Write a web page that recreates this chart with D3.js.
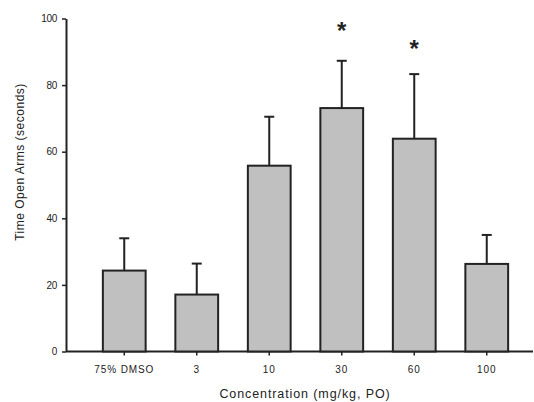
<!DOCTYPE html>
<html><head><meta charset="utf-8">
<script src="https://cdn.jsdelivr.net/npm/d3@7"></script>
<style>body{margin:0;background:#fff}svg{display:block}text{font-family:"Liberation Sans",Arial,sans-serif;fill:#222}</style>
</head><body><svg id="c" width="534" height="402"></svg>
<script>
const categories = ["75% DMSO","3","10","30","60","100"];
const means = [24.3,17.1,55.8,73.1,63.9,26.3];
const errors = [9.7,9.3,14.7,14.2,19.4,8.7];
const starLevels = [null,null,null,98,92.5,null];
const yTicks = [0,20,40,60,80,100];

const svg = d3.select("#c");
const x = d3.scaleBand().domain(categories).range([88,523]).paddingInner(0.41).paddingOuter(0.205);
const y = d3.scaleLinear().domain([0,100]).range([351.5,18.5]);
const x0 = 66, xEnd = 533;

// y axis
const ya = svg.append("g").attr("transform",`translate(${x0},0)`)
  .call(d3.axisLeft(y).tickValues(yTicks).tickSize(4).tickPadding(5).tickSizeOuter(0));
ya.select(".domain").attr("stroke","#222").attr("stroke-width",2);
ya.selectAll(".tick line").attr("stroke","#222").attr("stroke-width",1.5);
ya.selectAll(".tick text").attr("font-size",10).attr("letter-spacing","-0.3px").style("font-family","Liberation Sans, Arial").attr("fill","#222");

// x axis
const xa = svg.append("g").attr("transform",`translate(0,${y(0)})`)
  .call(d3.axisBottom(x).tickSize(4).tickPadding(10).tickSizeOuter(0));
xa.select(".domain").attr("d",`M${x0},0H${xEnd}`).attr("stroke","#222").attr("stroke-width",2);
xa.selectAll(".tick line").attr("stroke","#222").attr("stroke-width",1.5);
xa.selectAll(".tick text").attr("font-size",10).attr("letter-spacing","0.9px").style("font-family","Liberation Sans, Arial").attr("fill","#222");

// error bars
const eg = svg.append("g");
categories.forEach((c,i)=>{
  const cx = x(c)+x.bandwidth()/2;
  eg.append("line").attr("x1",cx).attr("x2",cx).attr("y1",y(means[i])).attr("y2",y(means[i]+errors[i]))
    .attr("stroke","#222").attr("stroke-width",2);
  eg.append("line").attr("x1",cx-5).attr("x2",cx+5).attr("y1",y(means[i]+errors[i])).attr("y2",y(means[i]+errors[i]))
    .attr("stroke","#222").attr("stroke-width",2);
  if(starLevels[i]!==null) eg.append("text").attr("x",cx).attr("y",y(starLevels[i])+14)
    .attr("text-anchor","middle").attr("font-size",24).attr("font-weight","bold").text("*");
});

// bars
svg.append("g").selectAll("rect").data(categories).join("rect")
  .attr("x",d=>x(d)).attr("width",x.bandwidth())
  .attr("y",(d,i)=>y(means[i])).attr("height",(d,i)=>y(0)-y(means[i]))
  .attr("fill","#c0c0c0").attr("stroke","#222").attr("stroke-width",2);

// titles
svg.append("text").attr("x",305).attr("y",398).attr("text-anchor","middle").attr("font-size",12.5)
  .attr("letter-spacing","0.9px").text("Concentration (mg/kg, PO)");
svg.append("text").attr("transform","translate(24,162) rotate(-90)").attr("text-anchor","middle").attr("font-size",12)
  .attr("letter-spacing","0.5px").text("Time Open Arms (seconds)");
</script></body></html>
